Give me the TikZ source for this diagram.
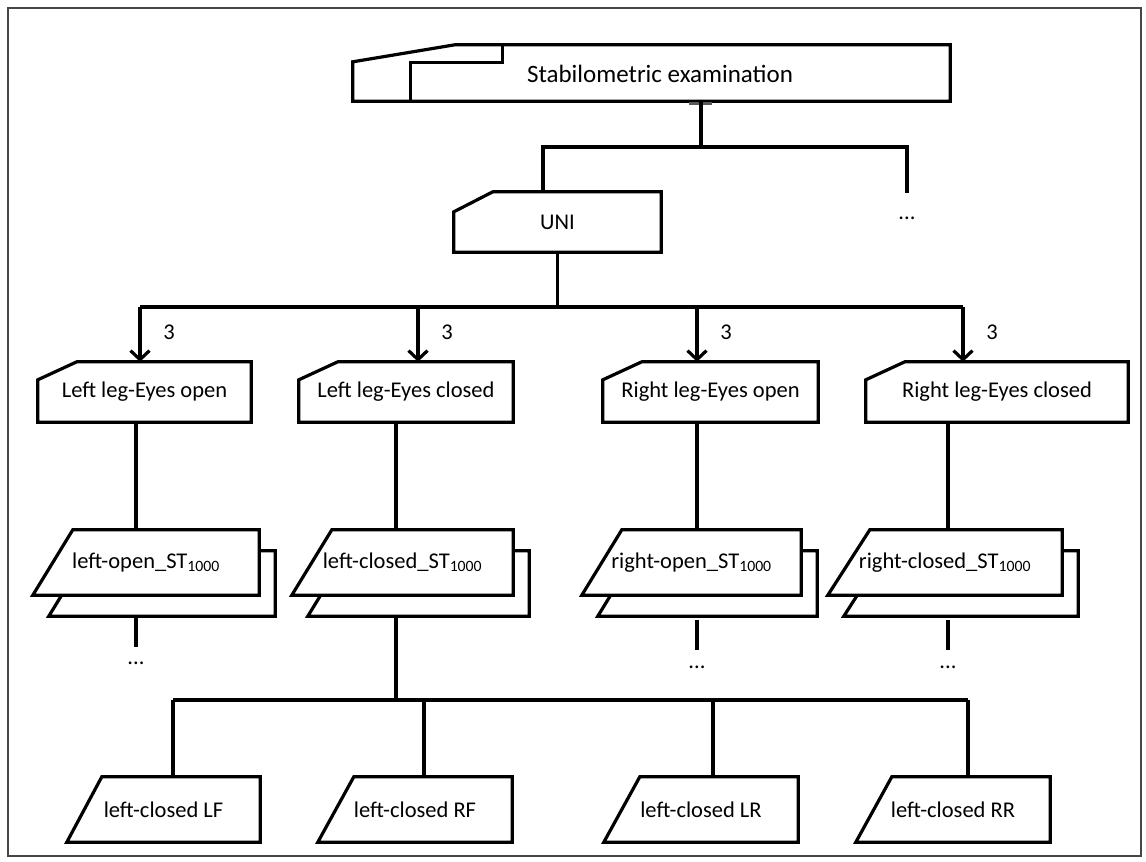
\documentclass[tikz,border=0pt]{standalone}
\usepackage{fontspec}
\setmainfont{Carlito}
\usetikzlibrary{calc,arrows.meta,backgrounds}

% chamfered box round a frame node
\newcommand\chamferbox[3]{%
  \draw[shp] ($(#1.north west)+(0,#3)$) -- ($(#1.north west)+(#2,0)$) -- (#1.north east)
    -- (#1.south east) -- (#1.south west) -- cycle;}
% parallelogram round a frame node, slanted to the right
\newcommand\slantbox[2]{%
  \draw[shp,fill=white] (#1.south west) -- ($(#1.north west)+(#2,0)$) -- (#1.north east)
    -- (#1.south east) -- cycle;}

\begin{document}
\begin{tikzpicture}[x=1pt,y=-1pt,
  lbl/.style={font=\fontsize{22.5}{27}\selectfont,inner sep=0pt},
  boxframe/.style={lbl,draw=none,minimum width=#1,minimum height=60pt},
  paraframe/.style={lbl,draw=none,minimum width=#1,minimum height=65pt},
  shp/.style={line width=3.2pt,line join=miter},
  conn/.style={line width=3.2pt},
  arr/.style={conn,-{Straight Barb[length=9pt,width=19pt]}}]

\useasboundingbox (0,0) rectangle (1146,862);
\draw[line width=1.5pt,gray!55!black] (8,8) rectangle (1141,856);

% ---- top level
\node[boxframe=597,minimum height=56pt] (stab) at (651.5,73) {};
\node[lbl,font=\fontsize{25}{29}\selectfont] (stabtxt) at (660,74) {Stabilometric examination};
\draw[shp] (stab.south west) -- ($(stab.north west)+(0,17)$) -- ($(stab.north west)+(102,0)$)
  -- (stab.north east) -- (stab.south east) -- cycle;
\draw[shp] ($(stab.south west)+(58,0)$) -- ($(stab.north west)+(58,18)$)
  -- ($(stab.north west)+(150,18)$) -- ($(stab.north west)+(150,0)$);
\fill[gray!70!black] (689,102) rectangle (712,105);

\node[boxframe=207] (uni) at (557.5,222) {UNI};
\chamferbox{uni}{39}{20}

\coordinate (j1) at (701,147);
\coordinate (j2) at (543,147);
\coordinate (j3) at (907,147);
\coordinate (e1) at (907,193);
\node[lbl] (dots0) at (907,218) {...};
\draw[conn] (stab.south -| j1) -- (j1);
\draw[conn] (uni.north -| j2) |- (j3) -- (e1);

% ---- conditions
\node[boxframe=213] (lo) at (144.5,392) {Left leg-Eyes open};
\node[boxframe=214] (lc) at (406,392) {Left leg-Eyes closed};
\node[boxframe=215] (ro) at (710.5,392) {Right leg-Eyes open};
\node[boxframe=262] (rc) at (997,392) {Right leg-Eyes closed};
\foreach \n in {lo,lc,ro,rc} {\chamferbox{\n}{39}{18}}

\coordinate (a1) at (140,307);
\coordinate (a2) at (418,307);
\coordinate (a3) at (697,307);
\coordinate (a4) at (963,307);
\draw[conn] (uni.south) -- (uni.south |- a1);
\draw[conn] (a1) -- (a4);
\draw[arr] (a1) -- (lo.north -| a1);
\draw[arr] (a2) -- (lc.north -| a2);
\draw[arr] (a3) -- (ro.north -| a3);
\draw[arr] (a4) -- (rc.north -| a4);
\node[lbl] (n1) at (169,332) {3};
\node[lbl] (n2) at (447,332) {3};
\node[lbl] (n3) at (726,332) {3};
\node[lbl] (n4) at (992,332) {3};

% ---- stacked series
\node[paraframe=226] (slo) at (146,562.5) {left-open\_ST\textsubscript{1000}};
\node[paraframe=221] (slc) at (402.5,562.5) {left-closed\_ST\textsubscript{1000}};
\node[paraframe=219] (sro) at (691.5,562.5) {right-open\_ST\textsubscript{1000}};
\node[paraframe=234] (src) at (945,562.5) {right-closed\_ST\textsubscript{1000}};
\node[paraframe=226] (slob) at (162,583.5) {};
\node[paraframe=221] (slcb) at (418.5,583.5) {};
\node[paraframe=219] (srob) at (707.5,583.5) {};
\node[paraframe=234] (srcb) at (961,583.5) {};
\begin{pgfonlayer}{background}
  \slantbox{slob}{40}\slantbox{slo}{40}
  \slantbox{slcb}{40}\slantbox{slc}{40}
  \slantbox{srob}{40}\slantbox{sro}{40}
  \slantbox{srcb}{42}\slantbox{src}{42}
\end{pgfonlayer}

\coordinate (b1) at (136,0);
\coordinate (b2) at (396,0);
\coordinate (b3) at (697,0);
\coordinate (b4) at (948,0);
\draw[conn] (lo.south -| b1) -- (slo.north -| b1);
\draw[conn] (lc.south -| b2) -- (slc.north -| b2);
\draw[conn] (ro.south -| b3) -- (sro.north -| b3);
\draw[conn] (rc.south -| b4) -- (src.north -| b4);

\coordinate (d1) at (136,647);
\coordinate (d3) at (697,650);
\coordinate (d4) at (948,650);
\draw[conn] (slob.south -| d1) -- (d1);
\draw[conn] ($(srob.south -| d3)+(0,4)$) -- (d3);
\draw[conn] ($(srcb.south -| d4)+(0,4)$) -- (d4);
\node[lbl] (dots1) at (136,663) {...};
\node[lbl] (dots3) at (697,667) {...};
\node[lbl] (dots4) at (948,667) {...};

% ---- footer boxes
\node[paraframe=193] (lf) at (163.5,809.5) {left-closed LF};
\node[paraframe=194] (rf) at (415,809.5) {left-closed RF};
\node[paraframe=194] (lr) at (701,809.5) {left-closed LR};
\node[paraframe=194] (rr) at (953,809.5) {left-closed RR};
\begin{pgfonlayer}{background}
  \slantbox{lf}{35}\slantbox{rf}{36}\slantbox{lr}{36}\slantbox{rr}{36}
\end{pgfonlayer}

\coordinate (c0) at (396,700);
\coordinate (c1) at (173,700);
\coordinate (c2) at (424,700);
\coordinate (c3) at (713,700);
\coordinate (c4) at (968,700);
\draw[conn] (slcb.south -| c0) -- (c0);
\draw[conn] (c1) -- (c4);
\draw[conn] (c1) -- (lf.north -| c1);
\draw[conn] (c2) -- (rf.north -| c2);
\draw[conn] (c3) -- (lr.north -| c3);
\draw[conn] (c4) -- (rr.north -| c4);
\end{tikzpicture}
\end{document}
